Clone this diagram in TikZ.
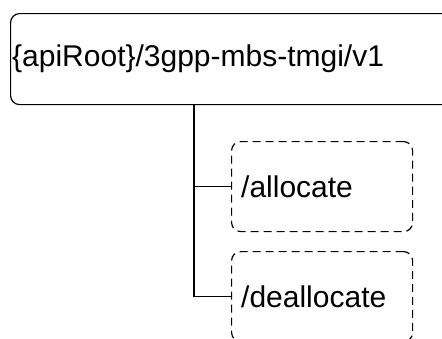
\documentclass[tikz,border=0pt]{standalone}
\usepackage{fontspec}
\setmainfont{Liberation Sans}
\begin{document}
\begin{tikzpicture}[x=1pt,y=-1pt,
  solidbox/.style={draw=black, line width=1.2pt, rounded corners=9pt, inner sep=0pt, anchor=north west},
  dashbox/.style={draw=black, line width=1.2pt, rounded corners=9pt, inner sep=0pt, anchor=north west,
                  dash pattern=on 8pt off 5pt, minimum width=181pt, minimum height=90pt},
  lbl/.style={font=\fontsize{30}{36}\selectfont, inner sep=0pt, anchor=west},
  conn/.style={draw=black, line width=1.2pt}]
\useasboundingbox (0,0) rectangle (442,338);
\clip (0,0) rectangle (442,338);
\node[solidbox, minimum width=460pt, minimum height=91pt] (root) at (10,13) {};
\node[lbl] (roottxt) at (12,59) {\{apiRoot\}/3gpp-mbs-tmgi/v1};
\node[dashbox] (alloc) at (231,141) {};
\node[lbl] (alloctxt) at ([xshift=10pt]alloc.west) {/allocate};
\node[dashbox] (dealloc) at (231,251) {};
\node[lbl] (dealloctxt) at ([xshift=10pt]dealloc.west) {/deallocate};
\coordinate (trunk) at (194,0);
\draw[conn] (root.south -| trunk) |- (alloc.west);
\draw[conn] (root.south -| trunk) |- (dealloc.west);
\end{tikzpicture}
\end{document}
